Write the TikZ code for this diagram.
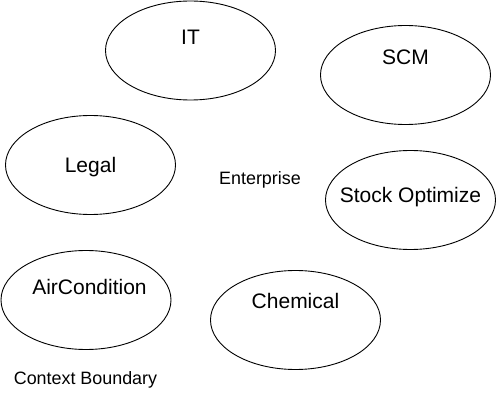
\documentclass[tikz,border=0pt]{standalone}
\usepackage{fontspec}
\setmainfont{Liberation Sans}
\usetikzlibrary{shapes.geometric}
\begin{document}
\begin{tikzpicture}[x=1pt,y=-1pt,
  ctx/.style={draw=black, line width=0.9pt, ellipse, minimum width=170pt, minimum height=99pt, inner sep=0pt},
  big/.style={font=\fontsize{21}{24}\selectfont, inner sep=0pt, anchor=center},
  small/.style={font=\fontsize{17.9}{21}\selectfont, inner sep=0pt, anchor=center}]
\useasboundingbox (0,0) rectangle (496,401);
\node[ctx] (it) at (190.5,50.5) {};
\node[big] (itt) at (190.5,37) {IT};
\node[ctx] (scm) at (405.5,75) {};
\node[big] (scmt) at (405.5,57) {SCM};
\node[ctx] (legal) at (90.5,165) {};
\node[big] (legalt) at (90.5,167) {Legal};
\node[ctx] (stock) at (410.5,200) {};
\node[big] (stockt) at (410.5,197) {Stock Optimize};
\node[ctx] (air) at (86,300) {};
\node[big] (airt) at (89.5,287) {AirCondition};
\node[ctx] (chem) at (295.5,320) {};
\node[big] (chemt) at (295.5,301) {Chemical};
\node[small] (ent) at (260,180) {Enterprise};
\node[small] (cb) at (85.5,380) {Context Boundary};
\end{tikzpicture}
\end{document}
